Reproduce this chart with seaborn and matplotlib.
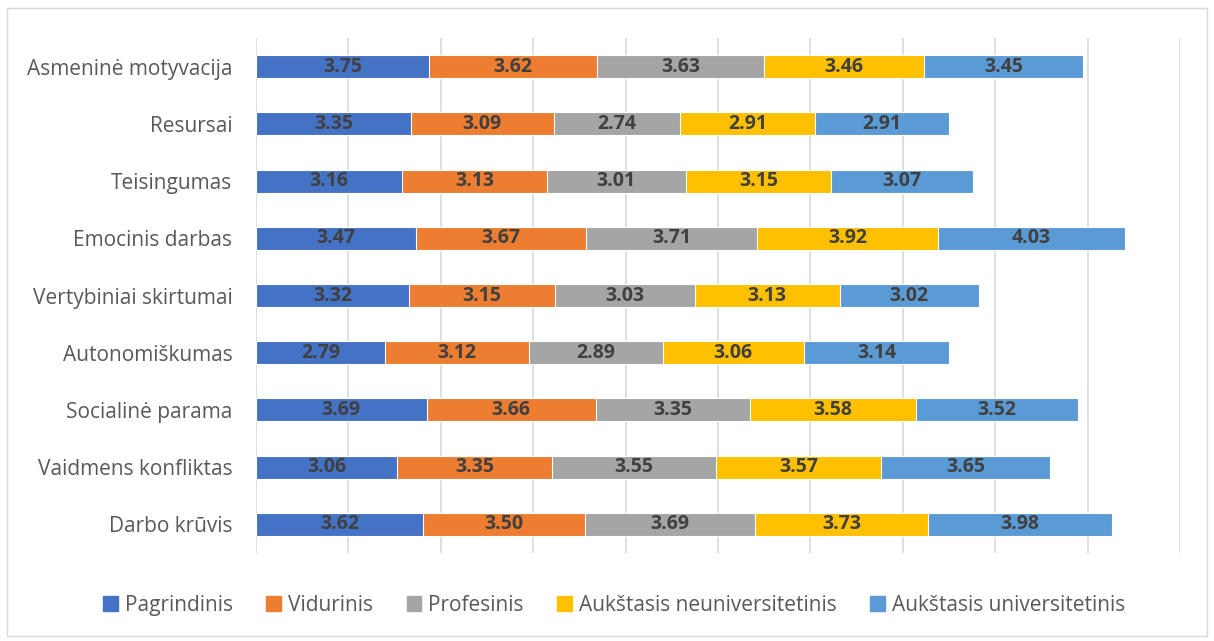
import matplotlib
matplotlib.use("Agg")
import matplotlib.pyplot as plt
from matplotlib.patches import Rectangle
import numpy as np
import pandas as pd
import seaborn as sns

categories = [
    "Asmeninė motyvacija", "Resursai", "Teisingumas", "Emocinis darbas",
    "Vertybiniai skirtumai", "Autonomiškumas", "Socialinė parama",
    "Vaidmens konfliktas", "Darbo krūvis",
]
series = [
    "Pagrindinis", "Vidurinis", "Profesinis",
    "Aukštasis neuniversitetinis", "Aukštasis universitetinis",
]
pagrindinis = [3.75, 3.35, 3.16, 3.47, 3.32, 2.79, 3.69, 3.06, 3.62]
vidurinis = [3.62, 3.09, 3.13, 3.67, 3.15, 3.12, 3.66, 3.35, 3.50]
profesinis = [3.63, 2.74, 3.01, 3.71, 3.03, 2.89, 3.35, 3.55, 3.69]
auk_neuniv = [3.46, 2.91, 3.15, 3.92, 3.13, 3.06, 3.58, 3.57, 3.73]
auk_univ = [3.45, 2.91, 3.07, 4.03, 3.02, 3.14, 3.52, 3.65, 3.98]
colors = ["#4472C4", "#ED7D31", "#A5A5A5", "#FFC000", "#5B9BD5"]

values = np.array([pagrindinis, vidurinis, profesinis, auk_neuniv, auk_univ])
cumulative = values.cumsum(axis=0)

sns.set_theme(style="white")
plt.rcParams["font.family"] = ["Open Sans", "DejaVu Sans"]

fig = plt.figure(figsize=(12.14, 6.41), dpi=100)
ax = fig.add_axes([0.2109, 0.1373, 0.972 - 0.2109, 0.9407 - 0.1373])

# Stacked bars: draw cumulative totals from the outermost series inwards
for i in range(len(series) - 1, -1, -1):
    df = pd.DataFrame({"category": categories, "total": cumulative[i]})
    sns.barplot(data=df, x="total", y="category", order=categories,
                color=colors[i], width=0.4, edgecolor="white", linewidth=0.8,
                saturation=1, ax=ax, zorder=2)

# Value labels centred in each segment
for i in range(len(series)):
    for j in range(len(categories)):
        ax.text(cumulative[i, j] - values[i, j] / 2, j, f"{values[i, j]:.2f}",
                ha="center", va="center", fontsize=14, fontweight="bold",
                color="#404040", zorder=3)

ax.set_xlim(0, 20)
ax.set_ylim(len(categories) - 0.5, -0.5)
ax.set_xticks(np.arange(0, 21, 2))
ax.set_xticklabels([])
ax.xaxis.grid(True, color="#D9D9D9", linewidth=1.2, zorder=0)
ax.yaxis.grid(False)
ax.set_axisbelow(True)
for s in ax.spines.values():
    s.set_visible(False)
ax.set_xlabel("")
ax.set_ylabel("")
ax.tick_params(axis="y", length=0, pad=17, labelsize=15, labelcolor="#595959")
ax.tick_params(axis="x", length=0)

handles = [Rectangle((0, 0), 1, 1, color=c) for c in colors]
fig.legend(handles, series, loc="center", bbox_to_anchor=(0.506, 0.056),
           ncol=5, frameon=False, fontsize=15, labelcolor="#595959",
           handlelength=0.7, handleheight=0.7, handletextpad=0.35,
           columnspacing=1.6)

fig.patches.append(Rectangle((7 / 1214, 5 / 641), 1200 / 1214, 628 / 641,
                             transform=fig.transFigure, fill=False,
                             edgecolor="#D9D9D9", linewidth=1))

fig.savefig("out.png", dpi=100)
